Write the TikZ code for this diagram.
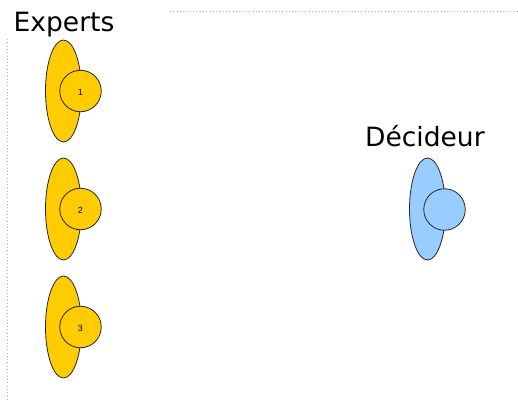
\documentclass[tikz,border=0pt]{standalone}
\usepackage{fontspec}
\setmainfont{DejaVu Sans}
\newfontfamily\digitfont{Liberation Sans}
\usetikzlibrary{shapes.geometric}
\definecolor{expfill}{RGB}{255,204,0}
\definecolor{decfill}{RGB}{153,204,255}
\definecolor{dotcol}{RGB}{175,175,190}
\tikzset{
  x=1pt,y=-1pt,
  body/.style={ellipse,draw=black!85,line width=0.8pt,minimum width=36pt,minimum height=102pt,inner sep=0pt,outer sep=0pt},
  head/.style={circle,draw=black!85,line width=0.8pt,minimum size=41.5pt,inner sep=0pt,outer sep=0pt},
  digit/.style={font=\digitfont\fontsize{9}{10}\selectfont,inner sep=0pt,text=black},
  title/.style={font=\fontsize{26.5}{30}\selectfont,inner sep=0pt,anchor=base west,text=black},
  dotline/.style={draw=dotcol,line width=1pt,dash pattern=on 1pt off 2.3pt}
}
\begin{document}
\begin{tikzpicture}
\useasboundingbox (0,0) rectangle (518,399);
\coordinate (ha) at (170,11);
\coordinate (hb) at (518,11);
\coordinate (va) at (7.5,39);
\coordinate (vb) at (7.5,399);
\draw[dotline] (ha) -- (hb);
\draw[dotline] (va) -- (vb);
\node[title] (experts) at (13.5,31) {Experts};
\node[title] (decideur) at (365,146) {Décideur};
\node[body,fill=expfill] (b1) at (63.5,91) {};
\node[head,fill=expfill] (h1) at (80.5,91) {};
\node[digit] (d1) at (80.5,92) {1};
\node[body,fill=expfill] (b2) at (63.5,209) {};
\node[head,fill=expfill] (h2) at (80.5,209) {};
\node[digit] (d2) at (80.5,210) {2};
\node[body,fill=expfill] (b3) at (63.5,327) {};
\node[head,fill=expfill] (h3) at (80.5,327) {};
\node[digit] (d3) at (80.5,328) {3};
\node[body,fill=decfill] (b4) at (427.5,209) {};
\node[head,fill=decfill] (h4) at (444.5,209.5) {};
\end{tikzpicture}
\end{document}
